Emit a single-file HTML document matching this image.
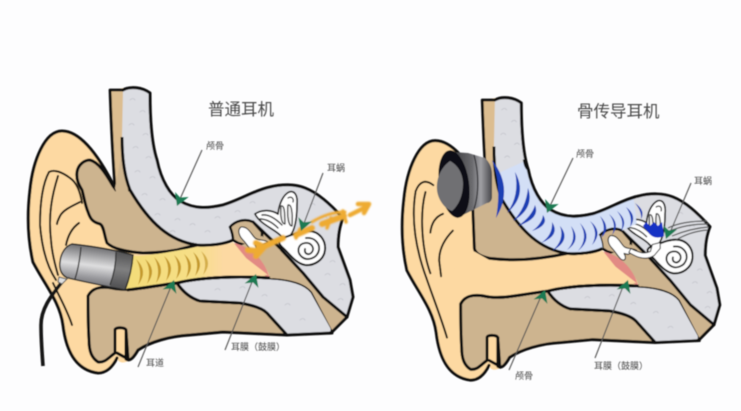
<!DOCTYPE html>
<html><head><meta charset="utf-8">
<style>
html,body{margin:0;padding:0;background:#fdfdfe}
svg{display:block}
text{font-family:"Liberation Sans","Noto Sans CJK SC",sans-serif;fill:#555}
.t{font-size:16.5px;fill:#4a4a4a}
.s{font-size:9px;fill:#444}
</style></head>
<body>
<svg width="741" height="411" viewBox="0 0 741 411" xmlns="http://www.w3.org/2000/svg">
<defs>
<filter id="b" x="-5%" y="-5%" width="110%" height="110%"><feGaussianBlur stdDeviation="0.55"/></filter>
<filter id="b2" x="-10%" y="-30%" width="120%" height="160%"><feGaussianBlur stdDeviation="0.9"/></filter>
<linearGradient id="canal" gradientUnits="userSpaceOnUse" x1="126" x2="240" y1="0" y2="0"><stop offset="0" stop-color="#f3dc78"/><stop offset=".62" stop-color="#f6df88"/><stop offset=".85" stop-color="#fdd9a2"/><stop offset="1" stop-color="#fdd9a2"/></linearGradient>
<linearGradient id="phone" x1="0.2" x2="0" y1="0" y2="1"><stop offset="0" stop-color="#6d6d70"/><stop offset=".4" stop-color="#dededf"/><stop offset=".65" stop-color="#9a9a9e"/><stop offset="1" stop-color="#4a4a4e"/></linearGradient>
<linearGradient id="bone" x1="0" x2="1" y1="0" y2="0"><stop offset="0" stop-color="#3a3a3e"/><stop offset=".5" stop-color="#6a6a6e"/><stop offset=".72" stop-color="#a0a0a4"/><stop offset="1" stop-color="#45454a"/></linearGradient>
<path id="ah" d="M0,0 L7.5,12 L0.5,9 L-7,13Z" fill="#1d7a52"/>
<g id="base" stroke-linejoin="round" stroke-linecap="round">
  <path fill="#fdd9a2" d="M62,131 C78,131 96,150 115,188 L140,230 L270,250 L272,285 L190,290 L128,361 C122,364 118,362 117,358 C112,368 106,373 98,373 C75,370 66,350 63,325 C60,302 45,285 33,262 C28,240 27,215 30,190 C33,160 45,131 62,131Z"/>
  <path fill="#dcbd90" d="M110,90 L124,88 L124,188 L115,188 C112,150 111,120 110,90Z"/>
  <path fill="none" stroke="#111" stroke-width="2.8" d="M123,90 L110,90 C111,120 113,160 115,188"/>
  <path fill="none" stroke="#111" stroke-width="3" d="M115,188 C96,150 78,131 62,131 C45,131 33,160 30,190 C27,215 28,240 33,262 C45,285 60,302 63,325 C66,350 75,370 98,373 C106,373 112,368 117,358"/>
  <path fill="#cdb48f" stroke="#111" stroke-width="3" d="M88,296 C92,288 100,286 112,288 C130,292 150,286 177,283 C183,292 190,298 200,301 L240,303 C252,305 262,308 267,313 L287,335 L223,332 L190,335 C170,336 150,342 138,350 C134,357 130,362 126,359 L126,330 C125,327 115,327 115,330 L115,353 C108,358 105,363 98,362 C92,358 89,352 89,340 C88,325 88,310 88,296Z"/>
  <path fill="none" stroke="#111" stroke-width="3" d="M126,330 L128,359 L117,353"/>
  <path fill="#dcdde2" stroke="#111" stroke-width="3" d="M177,283 C200,277 240,276 270,278 C290,279 305,283 312,292 L332,328 L332,333 L287,335 L267,313 C262,308 252,305 240,303 L200,301 C190,298 183,292 177,283Z"/>
  <path fill="#dcdde2" d="M123,90 C130,86 142,87 150,93 C150,120 152,145 157,160 C161,180 170,195 180,201 C195,210 210,208 223,205 C240,200 255,190 270,187 C282,184 295,184 305,188 C318,193 330,204 343,218 C340,225 338,235 338,247 L350,280 L353,297 L347,317 L333,330 L320,295 L277,245 L253,222 C245,218 235,222 230,227 C232,232 233,236 233,240 C225,244 210,246 197,245 C170,241 150,224 130,190 C124,175 122,155 122,137Z"/>
  <path fill="#cdb48f" d="M277,245 L254,225 L270,278 C290,279 305,283 312,292 L332,330 L347,317 L323,297 L303,273Z"/>
  <g fill="none" stroke="#c4c5cc" stroke-width=".8">
    <path d="M130,100 q3,-3 5,0 M140,112 q3,-3 5,0 M129,125 q3,-3 5,0 M143,135 q3,-3 5,0 M133,148 q3,-3 5,0 M146,158 q3,-3 5,0 M135,172 q3,-3 5,0 M150,178 q3,-3 5,0 M142,195 q3,-3 5,0 M160,200 q3,-3 5,0 M155,215 q3,-3 5,0 M175,220 q3,-3 5,0 M170,232 q3,-3 5,0 M190,225 q3,-3 5,0 M205,232 q3,-3 5,0 M215,218 q3,-3 5,0 M235,212 q3,-3 5,0 M250,203 q3,-3 5,0 M310,205 q3,-3 5,0 M322,218 q3,-3 5,0 M330,262 q3,-3 5,0 M340,285 q3,-3 5,0 M325,275 q3,-3 5,0 M338,300 q3,-3 5,0 M215,290 q3,-3 5,0 M240,288 q3,-3 5,0 M262,296 q3,-3 5,0 M285,305 q3,-3 5,0 M300,320 q3,-3 5,0"/>
  </g>
  <path fill="none" stroke="#111" stroke-width="3" d="M123,90 C130,86 142,87 150,93 C150,120 152,145 157,160 C161,180 170,195 180,201 C195,210 210,208 223,205 C240,200 255,190 270,187 C282,184 295,184 305,188 C318,193 330,204 343,218 C340,225 338,235 338,247 L350,280 L353,297 L347,317 L333,331 L330,333"/>
  <path fill="none" stroke="#111" stroke-width="3" d="M253,222 L277,245 L303,273 L323,297 L347,317"/>
  <path fill="#cdb48f" stroke="#111" stroke-width="2.6" d="M233,240 C233,236 232,232 230,227 C235,221 245,218 253,222 L262,232 L262,244 L248,246 L238,243Z"/>
  <path fill="#cdb48f" d="M240,246 L262,236 L280,250 L272,279 L262,262Z"/>
  <path fill="#fff" stroke="#222" stroke-width="1.1" d="M241,227 C248,226 251,234 255,238 C259,241 263,239 268,242 L259,246 L255,245 C258,250 256,253 252,251 C248,247 246,243 243,240 C239,236 237,230 241,227Z"/>
  <path fill="#e28a84" d="M234,243 C244,245 254,252 259,258 C265,265 268,272 270,279 C262,273 252,266 246,258 C241,252 236,248 234,243Z"/>
  <path fill="#fff" stroke="#1a1a1a" stroke-width="1.7" d="M255,214 C262,209 272,210 278,214 C279,204 283,195 289,192 C295,190 298,196 297,205 C297,214 296,224 293,231 C290,238 284,240 280,235 C274,229 260,224 255,214Z"/>
  <path fill="none" stroke="#333" stroke-width="1.4" d="M262,215 C269,214 276,219 282,225 M260,219 C267,219 273,223 278,228"/>
  <path fill="#eee" stroke="#333" stroke-width="1.3" d="M281,206 C284,205 285,210 285,224 C282,224 280,218 281,206Z M288,205 C291,204 293,210 292,226 C288,226 287,214 288,205Z"/>
  <path fill="none" stroke="#333" stroke-width="1.3" d="M288,198 C291,196 294,198 293,202"/>
  <path fill="#fff" stroke="#111" stroke-width="2" d="M308,231 C320,231 326,241 325,250 C324,260 314,266 305,265 C295,263 290,254 282,247 C278,243 278,240 283,238 C292,235 300,231 308,231Z"/>
  <path fill="none" stroke="#222" stroke-width="1.8" d="M306,238 C315,237 320,244 319,250 C317,259 307,261 302,257 C296,252 298,244 305,243 C311,242 315,248 312,252 C309,256 304,254 305,249"/>
</g>
</defs>

<g filter="url(#b)">
<!-- LEFT EAR -->
<use href="#base"/>
<path fill="#cdb48f" stroke="none" d="M115,190 L122,150 C122,165 125,178 130,190 C150,224 170,241 197,245 L177,250 C165,252 155,253 143,253 C125,252 112,248 107,243 C104,235 104,226 100,224Z"/>
<path fill="#cdb48f" stroke="#111" stroke-width="3" stroke-linejoin="round" d="M113,186 C105,172 98,162 90,160 C84,160 78,165 77,172 C76,180 79,185 82,190 C84,197 85,205 88,212 C90,218 92,222 100,224 C104,226 104,235 107,243 C112,248 125,252 143,253 C155,253 165,252 177,250 L197,245 C170,241 150,224 130,190 L116,190Z"/>
<path fill="#cdb48f" d="M115,188 L123,150 L128,190 L132,204 L120,205Z"/>
<path fill="none" stroke="#111" stroke-width="3" d="M122,137 C122,155 124,175 130,190 C150,224 170,241 197,245 C210,246 225,244 233,240"/>
<g fill="none" stroke="#1a1208" stroke-width="2" stroke-linecap="round">
<path d="M82,203 C80,190 76,182 70,178 C62,172 54,169 49,172 C42,185 40,205 40,225 C42,250 48,268 56,280"/>
<path d="M58,176 C52,195 48,215 51,240 C52,255 56,268 58,275"/>
<path d="M80,202 C72,206 63,210 60,216 C58,220 57,222 57,224"/>
<path d="M79,223 C72,228 68,235 66,245"/>
<path d="M53,283 C60,298 68,312 72,325"/>
</g>
<path fill="url(#canal)" d="M132,256 C150,256 170,252 197,247 C215,247 225,246 233,242 L246,258 L268,275 C240,274 215,275 197,278 C175,282 150,286 126,289Z"/>
<path fill="none" stroke="#111" stroke-width="3" d="M127,290 C145,288 160,285 177,283 C200,277 240,276 270,278"/>
<g fill="#c49a2e">
<path d="M136,259 Q143,271 138,285 Q149,271 136,259Z"/>
<path d="M145,259 Q152,270 147,284 Q158,270 145,259Z"/>
<path d="M154,257 Q161,269 156,283 Q167,269 154,257Z"/>
<path d="M164,256 Q171,267 166,281 Q177,267 164,256Z"/>
<path d="M174,255 Q181,266 176,279 Q187,266 174,255Z"/>
<path d="M184,254 Q191,265 186,278 Q197,265 184,254Z"/>
<path d="M193,252 Q200,263 195,276 Q206,263 193,252Z"/>
<path d="M201,251 Q208,262 203,275 Q214,262 201,251Z" opacity=".7"/>
</g>
<path fill="none" stroke="#151515" stroke-width="3.6" stroke-linecap="butt" d="M62,282 C52,295 41,308 41,325 C41,340 42,352 43,366"/>
<path fill="url(#phone)" stroke="#222" stroke-width="1.4" d="M72,244 C90,246 115,250 133,255 C132,268 129,280 125,290 C105,286 85,282 68,278 C62,276 59,270 60,262 C61,252 66,246 72,244Z"/>
<path fill="#e0e0e0" stroke="#555" stroke-width="1" d="M59,277 L66,279 L69,277 L65,281 L62,284 L58,282Z"/>
<path fill="none" stroke="#333" stroke-width="1.3" d="M81,247 C80,258 78,270 75,279 M116,252 C116,265 113,277 110,285"/>
<path fill="#333" d="M116,252 L133,255 C132,268 129,280 125,290 L110,286 C114,276 116,264 116,252Z" opacity=".55"/>
<g filter="url(#b2)" fill="none" stroke="#eeab33" stroke-linecap="round" stroke-linejoin="round">
<path stroke-width="6" d="M258,249 L283,238 M296,235 L312,228 M322,224 L344,216"/>
<path stroke-width="3" d="M312,222 C325,214 336,212 345,212"/>
<path stroke-width="4.5" d="M350,215 L366,207"/>
<path stroke-width="4.5" d="M358,204 L369,204 L364,213"/>
<path stroke-width="6" d="M256,243 L264,247 L256,256 M248,250 L258,251"/>
<path stroke-width="3.5" d="M300,229 L296,238 M331,218 L327,228 M343,211 L346,222"/>
</g>
<g stroke="#555" stroke-width="1.1" fill="none">
<path d="M202,150 L180,199"/><path d="M138,367 L172,284"/><path d="M225,350 L254,277"/><path d="M323,173 L303,226"/>
</g>
<use href="#ah" transform="translate(177,206) rotate(-156)"/>
<use href="#ah" transform="translate(174,280) rotate(22)"/>
<use href="#ah" transform="translate(256,274) rotate(22)"/>
<use href="#ah" transform="translate(301,231) rotate(-159)"/>

<!-- RIGHT EAR -->
<g transform="matrix(.978,0,0,.99,374.6,10.9)">
<use href="#base"/>
<path fill="#cdb48f" d="M100,170 L122,150 C122,165 124,175 130,190 C150,224 170,241 197,245 L160,253 L118,250 C108,248 103,245 102,240Z"/>
<path fill="none" stroke="#111" stroke-width="3" d="M100,190 L102,240 C103,245 108,248 118,250 C135,252 160,253 197,245 C210,246 225,244 233,240"/>
<path fill="#fdd9a2" d="M118,252 C135,254 160,255 197,247 C215,247 225,246 233,242 L246,258 L268,275 C240,274 215,275 197,278 L177,282 C150,286 130,291 112,287 C100,285 92,287 88,295 L70,270 L102,243Z"/>
<path fill="none" stroke="#111" stroke-width="3" d="M88,296 C92,288 100,286 112,288 C130,292 150,286 177,283 C200,277 240,276 270,278"/>
<path fill="#d3dff6" d="M124,165 L153,152 C154,158 155,158 157,160 C161,180 170,195 180,201 C195,210 210,208 223,205 C240,200 250,193 265,190 L268,215 L253,222 C245,218 235,222 230,227 C232,232 233,236 233,240 C225,244 210,246 197,245 C170,241 150,224 130,190 C127,182 124,175 124,165Z"/>
<path fill="none" stroke="#111" stroke-width="3" d="M122,137 C122,155 124,175 130,190 C150,224 170,241 197,245 C210,246 225,244 233,240"/>
<path fill="none" stroke="#111" stroke-width="3" d="M153,150 C154,156 155,158 157,160 C161,180 170,195 180,201 C195,210 210,208 223,205 C240,200 255,190 270,187"/>
<path fill="none" stroke="#111" stroke-width="2.6" d="M230,227 C235,221 245,218 253,222"/>
<path fill="#fff" stroke="#222" stroke-width="1" d="M262,240 C270,244 276,246 282,243 L284,236 L292,234 L292,240 L286,247 C278,252 270,250 260,244Z"/>
<g fill="none" stroke="#1a1208" stroke-width="2" stroke-linecap="round">
<path d="M60,176 C52,170 46,172 42,182 C38,205 40,235 53,270"/>
<path d="M52,183 C46,205 48,240 57,265"/>
<path d="M53,270 C60,290 68,310 74,330"/>
<path d="M70,205 C62,208 58,215 57,224"/>
<path d="M80,222 C72,230 66,240 66,252 L68,268"/>
</g>
</g>
<g fill="#1f3fb4">
<path d="M492,160 Q502,185 496,218 Q514,188 492,160Z"/>
<path d="M515,172 Q520,195 507,213 Q528,195 515,172Z"/>
<path d="M528,188 Q526,208 513,221 Q535,208 528,188Z"/>
<path d="M535,205 Q532,216 518,226 Q541,218 535,205Z"/>
<path d="M543,215 Q542,224 532,231 Q550,225 543,215Z"/>
<path d="M552,222 Q553,235 541,243 Q561,235 552,222Z"/>
<path d="M560,226 Q565,240 552,251 Q572,240 560,226Z"/>
<path d="M571,226 Q577,240 567,250 Q582,240 571,226Z"/>
<path d="M580,223 Q589,238 578,251 Q594,238 580,223Z"/>
<path d="M590,221 Q599,232 592,245 Q604,232 590,221Z"/>
<path d="M600,216 Q607,228 601,238 Q612,228 600,216Z"/>
<path d="M609,214 Q617,224 612,235 Q621,224 609,214Z"/>
<path d="M617,211 Q625,221 621,231 Q629,221 617,211Z"/>
<path d="M626,207 Q633,217 630,227 Q638,216 626,207Z"/>
<path d="M635,203 Q642,212 641,219 Q646,211 635,203Z"/>
</g>
<path fill="#1732c4" d="M646,222 L650,226 L654,222 L658,226 L662,222 L664,236 C658,239 652,238 648,232 L643,226Z"/>
<path fill="none" stroke="#555" stroke-width="1.2" d="M668,232 C680,226 695,224 708,224 M672,236 C684,231 696,228 708,227 M676,240 C686,234 696,231 707,230 M668,228 C680,222 695,221 707,221"/>
<path fill="url(#bone)" d="M468,153 L485,158 C490,163 492,168 492,175 L492,197 C492,200 490,203 487,203 L457,218 L452,152Z"/>
<path fill="none" stroke="#2a2a2e" stroke-width="1.2" d="M474,155 C479,172 479,195 474,209"/>
<ellipse cx="454" cy="184" rx="15" ry="34" fill="#111113" transform="rotate(-8 454 184)"/>
<path d="M450,161 C440,168 436,180 437,190 C438,200 445,209 452,211 C459,205 463,195 463,184 C463,174 458,165 450,161Z" fill="#6f6f73"/>
<g stroke="#555" stroke-width="1.1" fill="none">
<path d="M573,158 L550,206"/><path d="M509,370 L542,294"/><path d="M595,358 L624,284"/><path d="M691,183 L669,235"/>
</g>
<use href="#ah" transform="translate(547,213) rotate(-156)"/>
<use href="#ah" transform="translate(545,290) rotate(22)"/>
<use href="#ah" transform="translate(628,280) rotate(22)"/>
<use href="#ah" transform="translate(666,239) rotate(-159)"/>
</g>

<g filter="url(#b)">
<text class="t" x="208" y="115">普通耳机</text>
<text class="t" x="577" y="117">骨传导耳机</text>
<text class="s" x="206" y="149">颅骨</text>
<text class="s" x="327" y="171">耳蜗</text>
<text class="s" x="146" y="366">耳道</text>
<text class="s" x="231" y="350">耳膜（鼓膜）</text>
<text class="s" x="576" y="157">颅骨</text>
<text class="s" x="694" y="184">耳蜗</text>
<text class="s" x="594" y="369">耳膜（鼓膜）</text>
<text class="s" x="515" y="379">颅骨</text>
</g>
</svg>
</body></html>
